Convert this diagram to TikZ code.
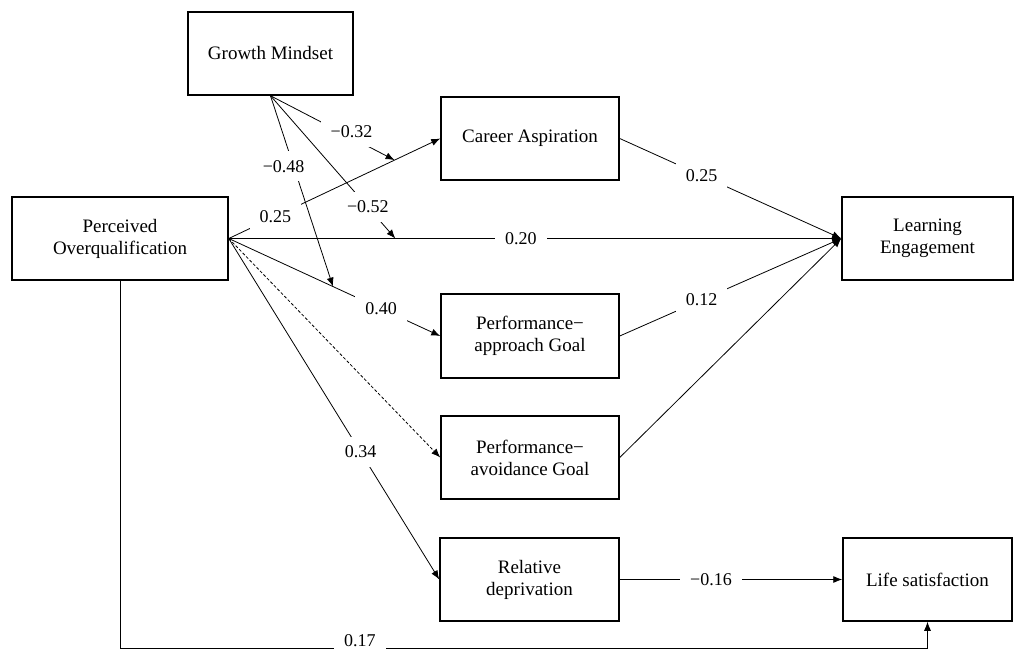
\documentclass[tikz,border=0pt]{standalone}
\usepackage{fontspec}
\setmainfont{Liberation Serif}
\usetikzlibrary{arrows.meta}
\tikzset{
  box/.style={draw, line width=1.5pt, inner sep=0pt, align=center, font=\fontsize{19}{22}\selectfont},
  lbl/.style={fill=white, inner xsep=10pt, inner ysep=9pt, font=\fontsize{18}{20}\selectfont},
  conn/.style={line width=0.8pt, -{Latex[length=9pt,width=7pt]}},
  plain/.style={line width=0.8pt}
}
\begin{document}
\begin{tikzpicture}[x=1pt,y=-1pt]
\fill[white] (0,0) rectangle (1014,650);
\useasboundingbox (0,0) rectangle (1014,650);
% nodes
\node[box, minimum width=165pt, minimum height=83pt] (GM) at (270.5,53.5) {Growth Mindset};
\node[box, minimum width=178pt, minimum height=83pt] (CA) at (530,138.5) {Career Aspiration};
\node[box, minimum width=216pt, minimum height=83pt] (PO) at (120,238.5) {Perceived\\Overqualification};
\node[box, minimum width=171pt, minimum height=83pt] (LE) at (927.5,238.5) {Learning\\Engagement};
\node[box, minimum width=178pt, minimum height=84pt] (PAp) at (530,336) {Performance−\\approach Goal};
\node[box, minimum width=178pt, minimum height=83pt] (PAv) at (530,457.5) {Performance−\\avoidance Goal};
\node[box, minimum width=179pt, minimum height=83pt] (RD) at (529.5,579.5) {Relative\\deprivation};
\node[box, minimum width=169pt, minimum height=83pt] (LS) at (927.5,579.5) {Life satisfaction};
% coordinates on paths for moderation
\path (PO.east) -- (CA.west) coordinate[pos=0.784] (m1);
\path (PO.east) -- (LE.west) coordinate[pos=0.272] (m2);
\path (PO.east) -- (PAp.west) coordinate[pos=0.493] (m3);
\coordinate (b) at (0,648);
% main paths
\draw[conn] (PO.east) -- node[lbl, pos=0.22] {0.25} (CA.west);
\draw[conn] (PO.east) -- node[lbl, pos=0.477] {0.20} (LE.west);
\draw[conn] (PO.east) -- node[lbl, pos=0.72] {0.40} (PAp.west);
\draw[conn, dash pattern=on 3pt off 2pt] (PO.east) -- (PAv.west);
\draw[conn] (PO.east) -- node[lbl, pos=0.626] {0.34} (RD.west);
\draw[conn] (CA.east) -- node[lbl, pos=0.37] {0.25} (LE.west);
\draw[conn] (PAp.east) -- node[lbl, pos=0.37] {0.12} (LE.west);
\draw[conn] (PAv.east) -- (LE.west);
\draw[conn] (RD.east) -- node[lbl, pos=0.41] {−0.16} (LS.west);
\draw[conn] (PO.south) -- (PO.south |- b) -- node[lbl, pos=0.297, yshift=7pt, inner ysep=2pt] {0.17} (LS.south |- b) -- (LS.south);
% moderation
\draw[conn] (GM.south) -- node[lbl, pos=0.62, xshift=4pt, yshift=4pt] {−0.32} (m1);
\draw[conn] (GM.south) -- node[lbl, pos=0.37, xshift=-10pt] {−0.48} (m3);
\draw[conn] (GM.south) -- node[lbl, pos=0.78] {−0.52} (m2);
\end{tikzpicture}
\end{document}
